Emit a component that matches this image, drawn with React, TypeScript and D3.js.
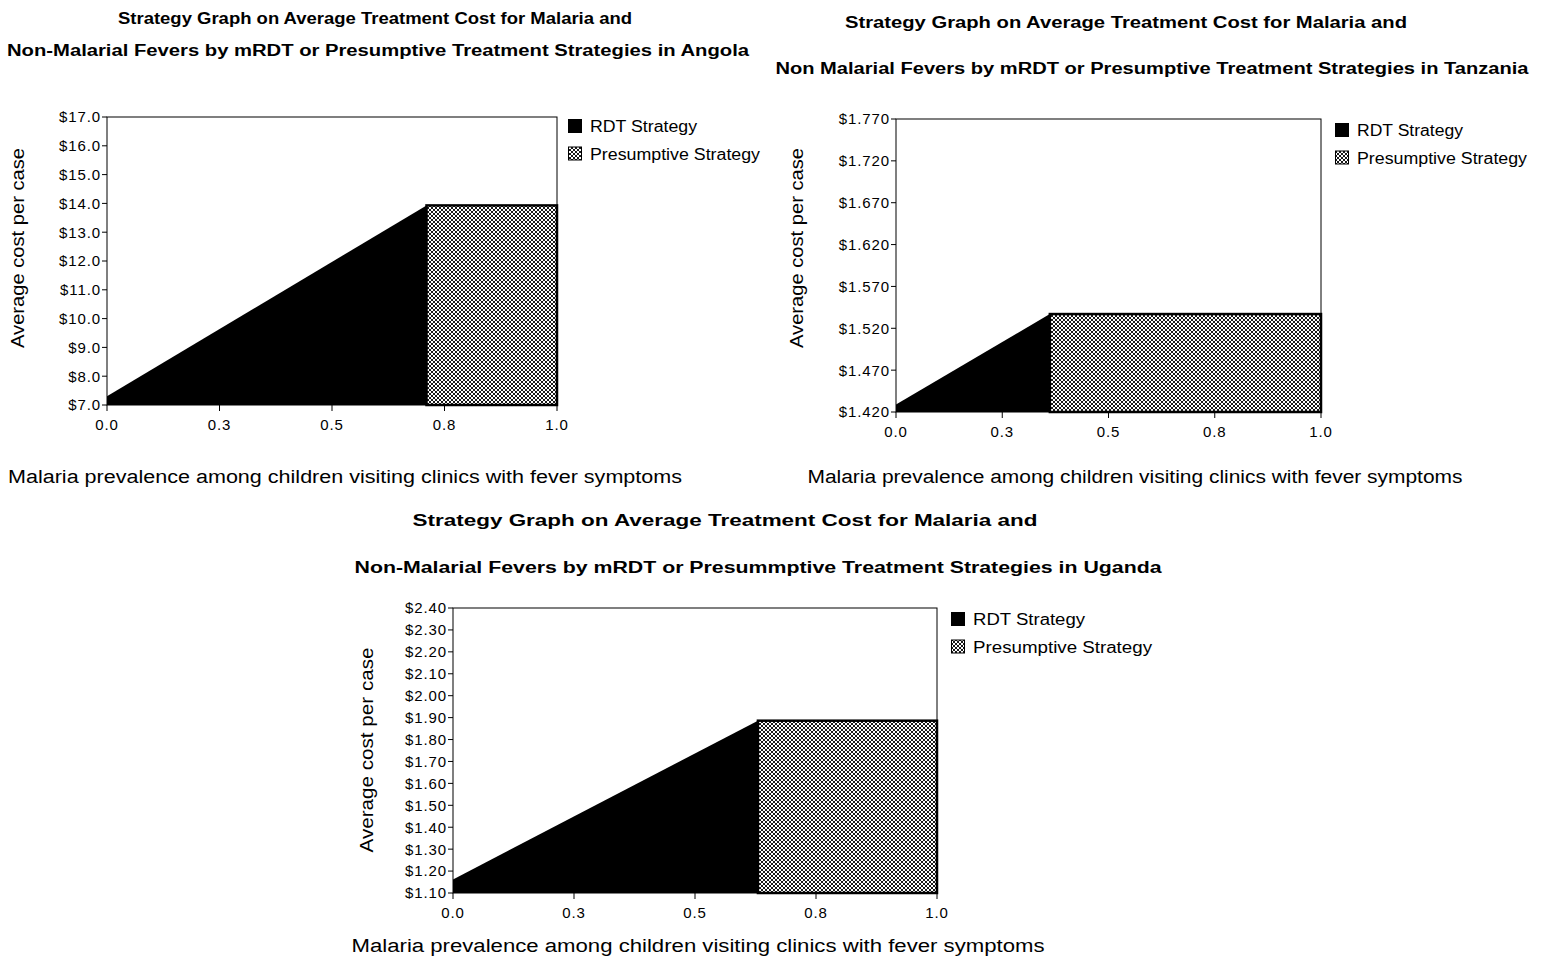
import React from "react";
import * as d3 from "d3";

// ---- data ----
const countries = ["Angola", "Tanzania", "Uganda"];
const titleLine1 = [
  "Strategy Graph on Average Treatment Cost for Malaria and",
  "Strategy Graph on Average Treatment Cost for Malaria and",
  "Strategy Graph on Average Treatment Cost for Malaria and",
];
const titleLine2 = [
  "Non-Malarial Fevers by mRDT or Presumptive Treatment Strategies in Angola",
  "Non Malarial Fevers by mRDT or Presumptive Treatment Strategies in Tanzania",
  "Non-Malarial Fevers by mRDT or Presummptive Treatment Strategies in Uganda",
];
const xLabels = [
  "Malaria prevalence among children visiting clinics with  fever symptoms",
  "Malaria prevalence among children visiting clinics with fever symptoms",
  "Malaria prevalence among children visiting clinics with fever symptoms",
];
const yLabel = "Average cost per case";
const legendLabels = ["RDT Strategy", "Presumptive Strategy"];

// RDT strategy cost at prevalence 0; at the switch point it equals the presumptive cost
const rdtCostAtZero = [7.3, 1.429, 1.162];
const presumptiveCost = [13.93, 1.537, 1.886];
const switchPrevalence = [0.71, 0.362, 0.63];

const yDomainMin = [7.0, 1.42, 1.1];
const yDomainMax = [17.0, 1.77, 2.4];
const yTickValues = [
  [7, 8, 9, 10, 11, 12, 13, 14, 15, 16, 17],
  [1.42, 1.47, 1.52, 1.57, 1.62, 1.67, 1.72, 1.77],
  [1.1, 1.2, 1.3, 1.4, 1.5, 1.6, 1.7, 1.8, 1.9, 2.0, 2.1, 2.2, 2.3, 2.4],
];
const yTickDecimals = [1, 3, 2];
const xTickValues = [0, 0.25, 0.5, 0.75, 1.0];
const xTickLabels = ["0.0", "0.3", "0.5", "0.8", "1.0"];

// ---- layout ----
const layouts = [
  { left: 107, right: 557, top: 117, bottom: 405, t1: [375, 24, 514], t2: [378, 56, 742], xl: [345, 483, 674], yl: [24, 248, 200], leg: [568, 126, 107, 170] },
  { left: 896, right: 1321, top: 119, bottom: 412, t1: [1126, 28, 562], t2: [1152, 74, 753], xl: [1135, 483, 655], yl: [803, 248, 200], leg: [1335, 130, 106, 170] },
  { left: 453, right: 937, top: 608, bottom: 893, t1: [725, 526, 625], t2: [758, 573, 807], xl: [698, 952, 693], yl: [373, 750, 205], leg: [951, 619, 112, 179] },
];

const FONT = "'Liberation Sans', Arial, sans-serif";

function Panel({ i }: { i: number }) {
  const L = layouts[i];
  const x = d3.scaleLinear().domain([0, 1]).range([L.left, L.right]);
  const y = d3.scaleLinear().domain([yDomainMin[i], yDomainMax[i]]).range([L.bottom, L.top]);
  const rdtPts: [number, number][] = [
    [0, rdtCostAtZero[i]],
    [switchPrevalence[i], presumptiveCost[i]],
  ];
  const area = d3
    .area<[number, number]>()
    .x((d) => x(d[0]))
    .y0(() => y(yDomainMin[i]))
    .y1((d) => y(d[1]));
  const fmt = d3.format(`.${yTickDecimals[i]}f`);
  const pid = `hatch${i}`;
  return (
    <g>
      <defs>
        <pattern id={pid} width={4} height={4} patternUnits="userSpaceOnUse">
          <rect width={4} height={4} fill="#fff" />
          <path d="M0,0 L4,4 M4,0 L0,4" stroke="#000" strokeWidth={0.9} />
        </pattern>
      </defs>
      <text x={L.t1[0]} y={L.t1[1]} textAnchor="middle" fontWeight="bold" fontSize={16} fontFamily={FONT} textLength={L.t1[2]} lengthAdjust="spacingAndGlyphs">
        {titleLine1[i]}
      </text>
      <text x={L.t2[0]} y={L.t2[1]} textAnchor="middle" fontWeight="bold" fontSize={16} fontFamily={FONT} textLength={L.t2[2]} lengthAdjust="spacingAndGlyphs">
        {titleLine2[i]}
      </text>
      {/* frame */}
      <rect x={L.left} y={L.top} width={L.right - L.left} height={L.bottom - L.top} fill="none" stroke="#000" strokeWidth={1} />
      {/* RDT area */}
      <path d={area(rdtPts) || ""} fill="#000" />
      {/* Presumptive rect */}
      <rect
        x={x(switchPrevalence[i])}
        y={y(presumptiveCost[i])}
        width={x(1) - x(switchPrevalence[i])}
        height={y(yDomainMin[i]) - y(presumptiveCost[i])}
        fill={`url(#${pid})`}
        stroke="#000"
        strokeWidth={2.5}
      />
      {/* y ticks */}
      {yTickValues[i].map((v) => (
        <g key={v}>
          <line x1={L.left - 5} x2={L.left} y1={y(v)} y2={y(v)} stroke="#000" />
          <text x={L.left - 6} y={y(v)} dy="0.36em" textAnchor="end" fontSize={15} fontFamily={FONT} style={{ letterSpacing: "0.9px" }}>
            {"$" + fmt(v)}
          </text>
        </g>
      ))}
      {/* x ticks */}
      {xTickValues.map((v, k) => (
        <g key={v}>
          <line x1={x(v)} x2={x(v)} y1={L.bottom} y2={L.bottom + 6} stroke="#000" />
          <text x={x(v)} y={L.bottom + 25} textAnchor="middle" fontSize={15} fontFamily={FONT} style={{ letterSpacing: "0.9px" }}>
            {xTickLabels[k]}
          </text>
        </g>
      ))}
      <text x={L.xl[0]} y={L.xl[1]} textAnchor="middle" fontSize={18} fontFamily={FONT} textLength={L.xl[2]} lengthAdjust="spacingAndGlyphs">
        {xLabels[i]}
      </text>
      <text transform={`translate(${L.yl[0]},${L.yl[1]}) rotate(-90)`} textAnchor="middle" fontSize={18} fontFamily={FONT} textLength={L.yl[2]} lengthAdjust="spacingAndGlyphs">
        {yLabel}
      </text>
      {/* legend */}
      <rect x={L.leg[0]} y={L.leg[1] - 7} width={14} height={14} fill="#000" />
      <text x={L.leg[0] + 22} y={L.leg[1]} dy="0.36em" fontSize={16} fontFamily={FONT} textLength={L.leg[2]} lengthAdjust="spacingAndGlyphs">
        {legendLabels[0]}
      </text>
      <rect x={L.leg[0] + 0.5} y={L.leg[1] + 21} width={13} height={13} fill={`url(#${pid})`} stroke="#000" strokeWidth={1} />
      <text x={L.leg[0] + 22} y={L.leg[1] + 28} dy="0.36em" fontSize={16} fontFamily={FONT} textLength={L.leg[3]} lengthAdjust="spacingAndGlyphs">
        {legendLabels[1]}
      </text>
    </g>
  );
}

export default function App() {
  return (
    <svg width={1549} height={961} style={{ position: "absolute", left: 0, top: 0, background: "#fff" }}>
      <rect width={1549} height={961} fill="#fff" />
      {countries.map((c, i) => (
        <Panel key={c} i={i} />
      ))}
    </svg>
  );
}
